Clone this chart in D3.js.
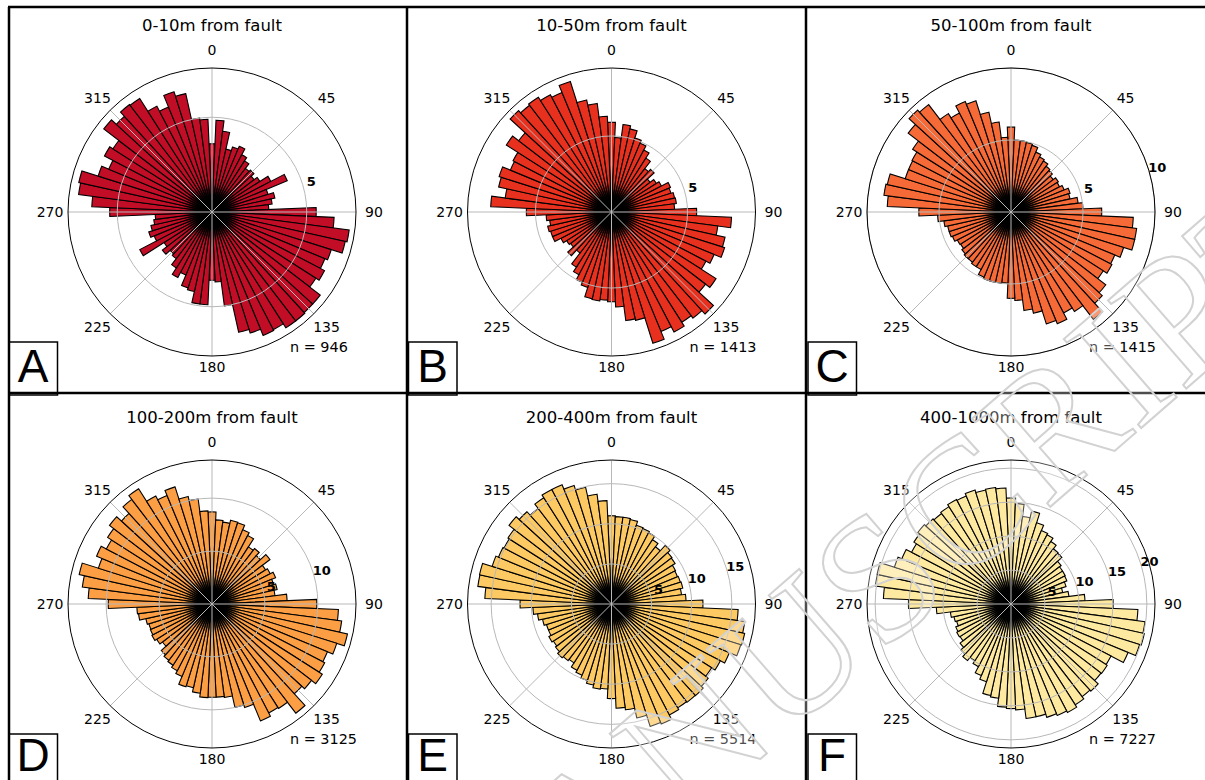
<!DOCTYPE html>
<html>
<head>
<meta charset="utf-8">
<script src="https://cdn.jsdelivr.net/npm/d3@7"></script>
<style>
body { margin: 0; background: #fff; }
svg { display: block; }
text { font-family: "DejaVu Sans", sans-serif; fill: #000; }
</style>
</head>
<body>
<svg id="fig" width="1205" height="780"></svg>
<script>
// bin centres, degrees clockwise from north (5 degree bins)
var binAngles = d3.range(0, 360, 5);

var valuesA = [3.6,4.85,4.3,3.4,3.6,3.75,3.4,3.2,2.9,3.0,2.8,3.0,3.5,4.3,3.1,3.4,3.2,3.0,
  5.5,6.45,7.3,7.2,6.6,6.45,6.7,6.5,7.2,7.2,7.25,7.25,7.0,7.05,6.7,6.5,5.0,3.7,
  3.6,4.9,4.9,4.3,4.2,3.6,3.9,3.5,3.1,3.0,3.3,3.0,4.3,3.3,3.5,3.3,3.1,3.0,
  5.4,6.35,7.1,7.2,6.3,5.9,6.4,6.2,7.2,6.85,7.15,7.1,6.3,6.0,6.65,6.4,5.0,4.9];
var valuesB = [5.9,4.9,5.8,5.6,5.1,4.9,4.6,4.2,3.6,3.8,3.2,3.5,3.7,4.2,4.1,4.25,4.3,4.15,
  5.6,7.9,7.05,7.65,7.8,7.3,7.0,8.15,7.8,9.1,8.8,8.6,8.9,8.5,9.05,7.3,7.2,6.25,
  5.9,5.8,5.9,5.85,5.2,5.0,4.65,4.3,3.4,3.9,3.4,3.5,3.75,4.2,4.2,4.3,4.1,4.3,
  5.6,7.95,7.05,7.6,7.75,7.2,7.3,8.2,7.7,9.05,8.85,8.95,8.7,8.5,9.0,7.55,7.2,6.3];
var valuesC = [5.9,5.0,5.0,4.95,4.85,4.5,4.3,4.2,4.0,3.9,3.7,3.9,3.8,4.0,4.3,4.2,4.7,5.0,
  6.3,8.5,8.8,8.8,8.2,7.8,7.9,7.6,8.3,8.6,9.4,8.2,7.9,8.4,8.15,7.2,6.9,6.15,
  6.0,4.95,5.0,5.0,5.0,4.9,4.5,4.5,4.4,4.4,4.3,4.15,4.2,4.4,4.5,4.5,4.7,5.1,
  6.4,8.6,8.9,8.8,7.7,7.7,7.75,8.1,9.0,9.6,9.4,8.1,7.75,8.3,8.1,7.1,6.3,5.2];
var valuesD = [8.7,7.95,7.8,8.1,8.05,7.6,7.3,6.4,6.6,6.2,6.9,6.0,6.2,6.5,6.1,6.3,6.0,7.1,
  9.9,11.95,12.35,13.1,12.35,11.8,12.0,12.35,11.85,11.5,13.0,11.7,11.6,11.95,10.25,10.0,8.9,8.8,
  8.8,8.85,8.5,8.1,8.2,7.4,7.1,6.85,6.7,6.5,5.9,6.2,6.4,6.3,6.25,6.4,7.0,7.1,
  9.8,11.7,12.35,12.85,11.25,11.8,11.25,11.7,12.2,11.6,12.45,12.9,11.5,11.1,11.6,10.4,10.0,8.8];
var valuesE = [11.0,10.9,10.9,10.8,10.3,10.2,10.0,9.5,9.0,9.9,9.5,9.4,9.0,8.9,9.0,9.1,8.8,9.3,
  11.4,15.8,16.75,17.0,16.9,15.9,15.3,14.8,15.2,15.5,15.45,15.35,15.6,16.2,16.0,14.55,13.3,13.0,
  11.8,10.6,10.7,10.35,10.0,9.6,9.3,8.7,8.9,9.1,8.8,8.6,8.8,8.5,8.5,8.8,9.3,9.8,
  11.4,15.8,16.8,16.85,15.6,15.25,15.1,15.3,16.1,15.6,15.0,15.7,16.1,16.1,15.5,14.9,13.8,12.9];
var valuesF = [15.6,14.8,13.0,14.0,12.55,11.7,11.5,10.9,10.25,10.15,9.3,9.0,9.0,8.9,8.5,7.8,8.6,10.9,
  15.05,18.7,19.9,20.1,19.85,18.65,16.6,16.8,16.7,17.4,17.2,17.6,18.0,17.75,17.5,17.0,17.0,15.6,
  15.4,15.2,14.0,13.8,12.0,11.4,10.4,9.9,10.5,10.0,9.45,8.9,9.0,8.8,8.4,8.6,9.0,11.0,
  15.1,18.8,20.15,20.2,18.0,17.4,16.5,16.95,17.3,17.0,16.8,17.0,17.35,17.2,17.6,17.2,17.3,17.1];

var panelTitles = ["0-10m from fault", "10-50m from fault", "50-100m from fault",
  "100-200m from fault", "200-400m from fault", "400-1000m from fault"];
var panelLetters = ["A", "B", "C", "D", "E", "F"];
var panelCounts = [946, 1413, 1415, 3125, 5514, 7227];
var radialMax = [7.6, 9.47, 10, 13.6, 17.95, 21.2];
var radialTicks = [[5], [5], [5, 10], [5, 10], [5, 10, 15], [5, 10, 15, 20]];
var angleTicks = [0, 45, 90, 135, 180, 225, 270, 315];

var barColors = ["#c20d27", "#e8301f", "#f66a37", "#fb9e44", "#fdc962", "#fee9a1"];
var allValues = [valuesA, valuesB, valuesC, valuesD, valuesE, valuesF];

var svg = d3.select("#fig");
var R = 144;
var colX = [212, 611.5, 1011];
var rowY = [212, 604];
var rad = Math.PI / 180;

svg.append("rect").attr("width", 1205).attr("height", 780).attr("fill", "#fff");

// dark hub where the bar outlines converge
var hub = svg.append("defs").append("radialGradient").attr("id", "hub");
hub.append("stop").attr("offset", "0%").attr("stop-color", "#000").attr("stop-opacity", 1);
hub.append("stop").attr("offset", "55%").attr("stop-color", "#000").attr("stop-opacity", 0.95);
hub.append("stop").attr("offset", "100%").attr("stop-color", "#000").attr("stop-opacity", 0);

allValues.forEach(function(vals, i) {
  var cx = colX[i % 3], cy = rowY[Math.floor(i / 3)];
  var r = d3.scaleLinear().domain([0, radialMax[i]]).range([0, R]);
  var g = svg.append("g").attr("transform", "translate(" + cx + "," + cy + ")");

  var arc = d3.arc()
    .innerRadius(0)
    .outerRadius(function(d) { return r(d.v); })
    .startAngle(function(d) { return (d.a - 2.5) * rad; })
    .endAngle(function(d) { return (d.a + 2.5) * rad; });

  var bins = binAngles.map(function(a, k) { return {a: a, v: vals[k]}; });

  g.selectAll("path.bar")
    .data(bins)
    .enter().append("path")
    .attr("class", "bar")
    .attr("d", arc)
    .attr("fill", barColors[i])
    .attr("stroke", "#000")
    .attr("stroke-width", 1.1)
    .attr("stroke-linejoin", "miter");

  g.append("circle").attr("r", 29).attr("fill", "url(#hub)");

  // grid on top of the bars
  g.selectAll("circle.grid")
    .data(radialTicks[i])
    .enter().append("circle")
    .attr("r", function(d) { return r(d); })
    .attr("fill", "none")
    .attr("stroke", "#b8b8b8")
    .attr("stroke-width", 1);

  g.selectAll("line.spoke")
    .data(angleTicks)
    .enter().append("line")
    .attr("x1", 0).attr("y1", 0)
    .attr("x2", function(d) { return R * Math.sin(d * rad); })
    .attr("y2", function(d) { return -R * Math.cos(d * rad); })
    .attr("stroke", "#b8b8b8")
    .attr("stroke-width", 1);

  g.append("circle")
    .attr("r", R)
    .attr("fill", "none")
    .attr("stroke", "#000")
    .attr("stroke-width", 1);

  // angle labels
  g.selectAll("text.ang")
    .data(angleTicks)
    .enter().append("text")
    .attr("x", function(d) { return (d === 180 ? 155 : 162) * Math.sin(d * rad); })
    .attr("y", function(d) { return -(d === 180 ? 155 : 162) * Math.cos(d * rad); })
    .attr("text-anchor", "middle")
    .attr("dy", "0.36em")
    .style("font-size", "14px")
    .text(function(d) { return d; });

  // radial labels
  g.selectAll("text.rlab")
    .data(radialTicks[i])
    .enter().append("text")
    .attr("x", function(d) { return (r(d) + 9) * Math.cos(17 * rad); })
    .attr("y", function(d) { return -(r(d) + 9) * Math.sin(17 * rad); })
    .attr("text-anchor", "middle")
    .attr("dy", "0.36em")
    .style("font-size", "13px")
    .style("font-weight", "bold")
    .text(function(d) { return d; });

  g.append("text")
    .attr("x", 0).attr("y", -181)
    .attr("text-anchor", "middle")
    .style("font-size", "16.5px")
    .text(panelTitles[i]);

  g.append("text")
    .attr("x", 78).attr("y", 140)
    .style("font-size", "14.4px")
    .text("n = " + panelCounts[i]);

  // panel letter box
  var bx = cx - 203, by = cy + 130;
  svg.append("rect")
    .attr("x", bx).attr("y", by)
    .attr("width", 48.5).attr("height", 53)
    .attr("fill", "#fff")
    .attr("stroke", "#000")
    .attr("stroke-width", 1.5);
  svg.append("text")
    .attr("x", bx + 24).attr("y", by + (i < 3 ? 40 : 37))
    .attr("text-anchor", "middle")
    .style("font-family", "'Liberation Sans', Arial, sans-serif")
    .style("font-size", "46px")
    .text(panelLetters[i]);
});

// panel frame
var frame = svg.append("g").attr("stroke", "#000").attr("stroke-width", 2.5);
frame.append("line").attr("x1", 8).attr("x2", 1205).attr("y1", 7).attr("y2", 7);
frame.append("line").attr("x1", 8).attr("x2", 1205).attr("y1", 393).attr("y2", 393);
[9, 407, 806].forEach(function(x) {
  frame.append("line").attr("x1", x).attr("x2", x).attr("y1", 7).attr("y2", 780);
});

// faint publisher watermark, outlined letters
svg.append("text")
  .attr("transform", "translate(1340,255) rotate(-41)")
  .attr("text-anchor", "end")
  .style("font-family", "'Liberation Serif', serif")
  .style("font-size", "180px")
  .style("fill", "#ffffff")
  .style("fill-opacity", 0.3)
  .style("stroke", "#d2d2d2")
  .style("stroke-width", 2)
  .text("ACCEPTED MANUSCRIPT");
</script>
</body>
</html>
